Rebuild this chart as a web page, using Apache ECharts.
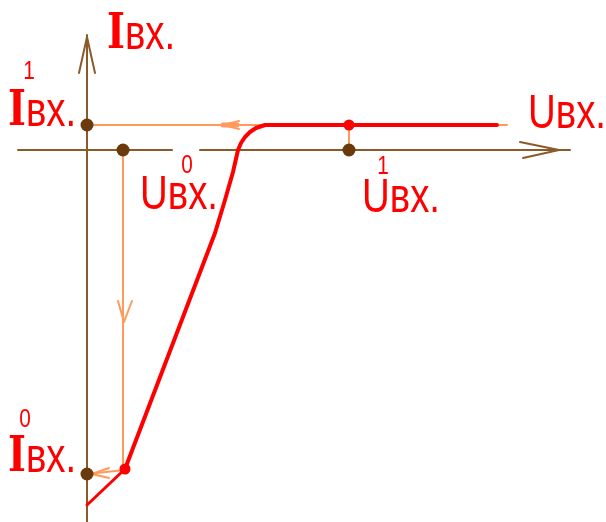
<!DOCTYPE html>
<html>
<head>
<meta charset="utf-8">
<script src="https://cdn.jsdelivr.net/npm/echarts@6/dist/echarts.min.js"></script>
<style>html,body{margin:0;padding:0;background:#fff}#c{width:606px;height:522px}</style>
</head>
<body>
<div id="c"></div>
<script>
// Coordinates: origin at the intersection of the axes (x = Uвх, y = Iвх), arbitrary units.
var axisHLeft = [[-69, 0], [85, 0]];
var axisHRight = [[113, 0], [483, 0]];
var axisHArrow = [[433, 8], [472, 0], [436, -8]];
var axisV = [[0, -372], [0, 115]];
var axisVArrow = [[-8, 77], [0, 113], [8, 77]];

var projI1 = [[0, 25], [178, 25]];
var projI1Arrow = [[152, 29], [136, 25], [152, 21]];
var projI1ArrowBody = [[136, 25], [150, 25]];
var projU0 = [[36, 0], [36, -320]];
var projU0Arrow = [[31, -151], [37, -172], [45, -151]];
var projI0 = [[0, -324], [38, -320]];
var projI0Arrow = [[22, -318], [5, -324], [22, -328]];
var projU1 = [[262, 0], [262, 25]];
var tailEnd = [[408, 25], [420, 25]];

var curveTail = [[0, -355], [38, -319]];
var curveMain = [[38, -319], [128, -83], [138, -50], [146, -22], [151, 0],
                 [154, 7], [158, 13], [163, 18], [169, 22], [178, 25], [410, 25]];

var brownDots = [[0, 25], [36, 0], [262, 0], [0, -324]];
var redDots = [[262, 25], [38, -319]];

// label anchors (left edge / vertical middle) and texts
var bigLabels = [
  {at: [20, 114], head: 'I', rest: 'вх.'},
  {at: [-79, 37], head: 'I', rest: 'вх.'},
  {at: [-79, -309], head: 'I', rest: 'вх.'},
  {at: [53, -46], head: 'U', rest: 'вх.'},
  {at: [275, -49], head: 'U', rest: 'вх.'},
  {at: [441, 35], head: 'U', rest: 'вх.'}
];
var smallLabels = [
  {at: [-58, 78], text: '1'},
  {at: [100, -16], text: '0'},
  {at: [296, -17], text: '1'},
  {at: [-62, -270], text: '0'}
];

var BROWN = '#8a5a2a', DOT = '#6b3a0c', ORANGE = '#ff9a5c', RED = '#ff0000';

function seg(data, color, width, z) {
  return {type: 'line', data: data, symbol: 'none', silent: true, animation: false,
          lineStyle: {color: color, width: width, cap: 'round', join: 'round'}, z: z || 2};
}

var series = [
  seg(axisHLeft, BROWN, 2, 1), seg(axisHRight, BROWN, 2, 1), seg(axisHArrow, BROWN, 2, 1),
  seg(axisV, BROWN, 2, 1), seg(axisVArrow, BROWN, 2, 1),
  seg(projI1, ORANGE, 2), seg(projI1Arrow, ORANGE, 2), seg(projI1ArrowBody, ORANGE, 5),
  seg(projU0, ORANGE, 2), seg(projU0Arrow, ORANGE, 2),
  seg(projI0, ORANGE, 2), seg(projI0Arrow, ORANGE, 2),
  seg(projU1, ORANGE, 2), seg(tailEnd, ORANGE, 2),
  seg(curveTail, RED, 3, 3), seg(curveMain, RED, 4, 3),
  {type: 'scatter', data: brownDots, symbolSize: 13, silent: true, animation: false,
   itemStyle: {color: DOT, opacity: 1}, z: 5},
  {type: 'scatter', data: redDots, symbolSize: 11, silent: true, animation: false,
   itemStyle: {color: RED, opacity: 1}, z: 6}
];

var chart = echarts.init(document.getElementById('c'), null, {renderer: 'canvas'});
chart.setOption({
  animation: false,
  backgroundColor: '#ffffff',
  grid: {left: 0, right: 0, top: 0, bottom: 0},
  xAxis: {type: 'value', min: -87, max: 519, show: false},
  yAxis: {type: 'value', min: -372, max: 150, show: false},
  series: series
});

var SANS = '"Liberation Sans", Arial, sans-serif';
var graphics = [];
bigLabels.forEach(function (l) {
  var p = chart.convertToPixel('grid', l.at);
  graphics.push({
    type: 'text', x: p[0], y: p[1], scaleX: 0.8, silent: true, z: 100,
    style: {
      text: (l.head === 'I' ? '{i|I}' : '{u|U}') + '{r|' + l.rest + '}',
      align: 'left', verticalAlign: 'middle', fill: RED,
      rich: {
        i: {fontFamily: '"DejaVu Serif", serif', fontSize: 48, fill: RED, fontWeight: 'bold'},
        u: {fontFamily: SANS, fontSize: 48, fill: RED},
        r: {fontFamily: SANS, fontSize: 48, fill: RED}
      }
    }
  });
});
smallLabels.forEach(function (l) {
  var p = chart.convertToPixel('grid', l.at);
  graphics.push({
    type: 'text', x: p[0], y: p[1], scaleX: 0.8, silent: true, z: 100,
    style: {text: l.text, align: 'center', verticalAlign: 'middle', fill: RED,
            fontFamily: SANS, fontSize: 26}
  });
});
chart.setOption({graphic: graphics});
</script>
</body>
</html>
